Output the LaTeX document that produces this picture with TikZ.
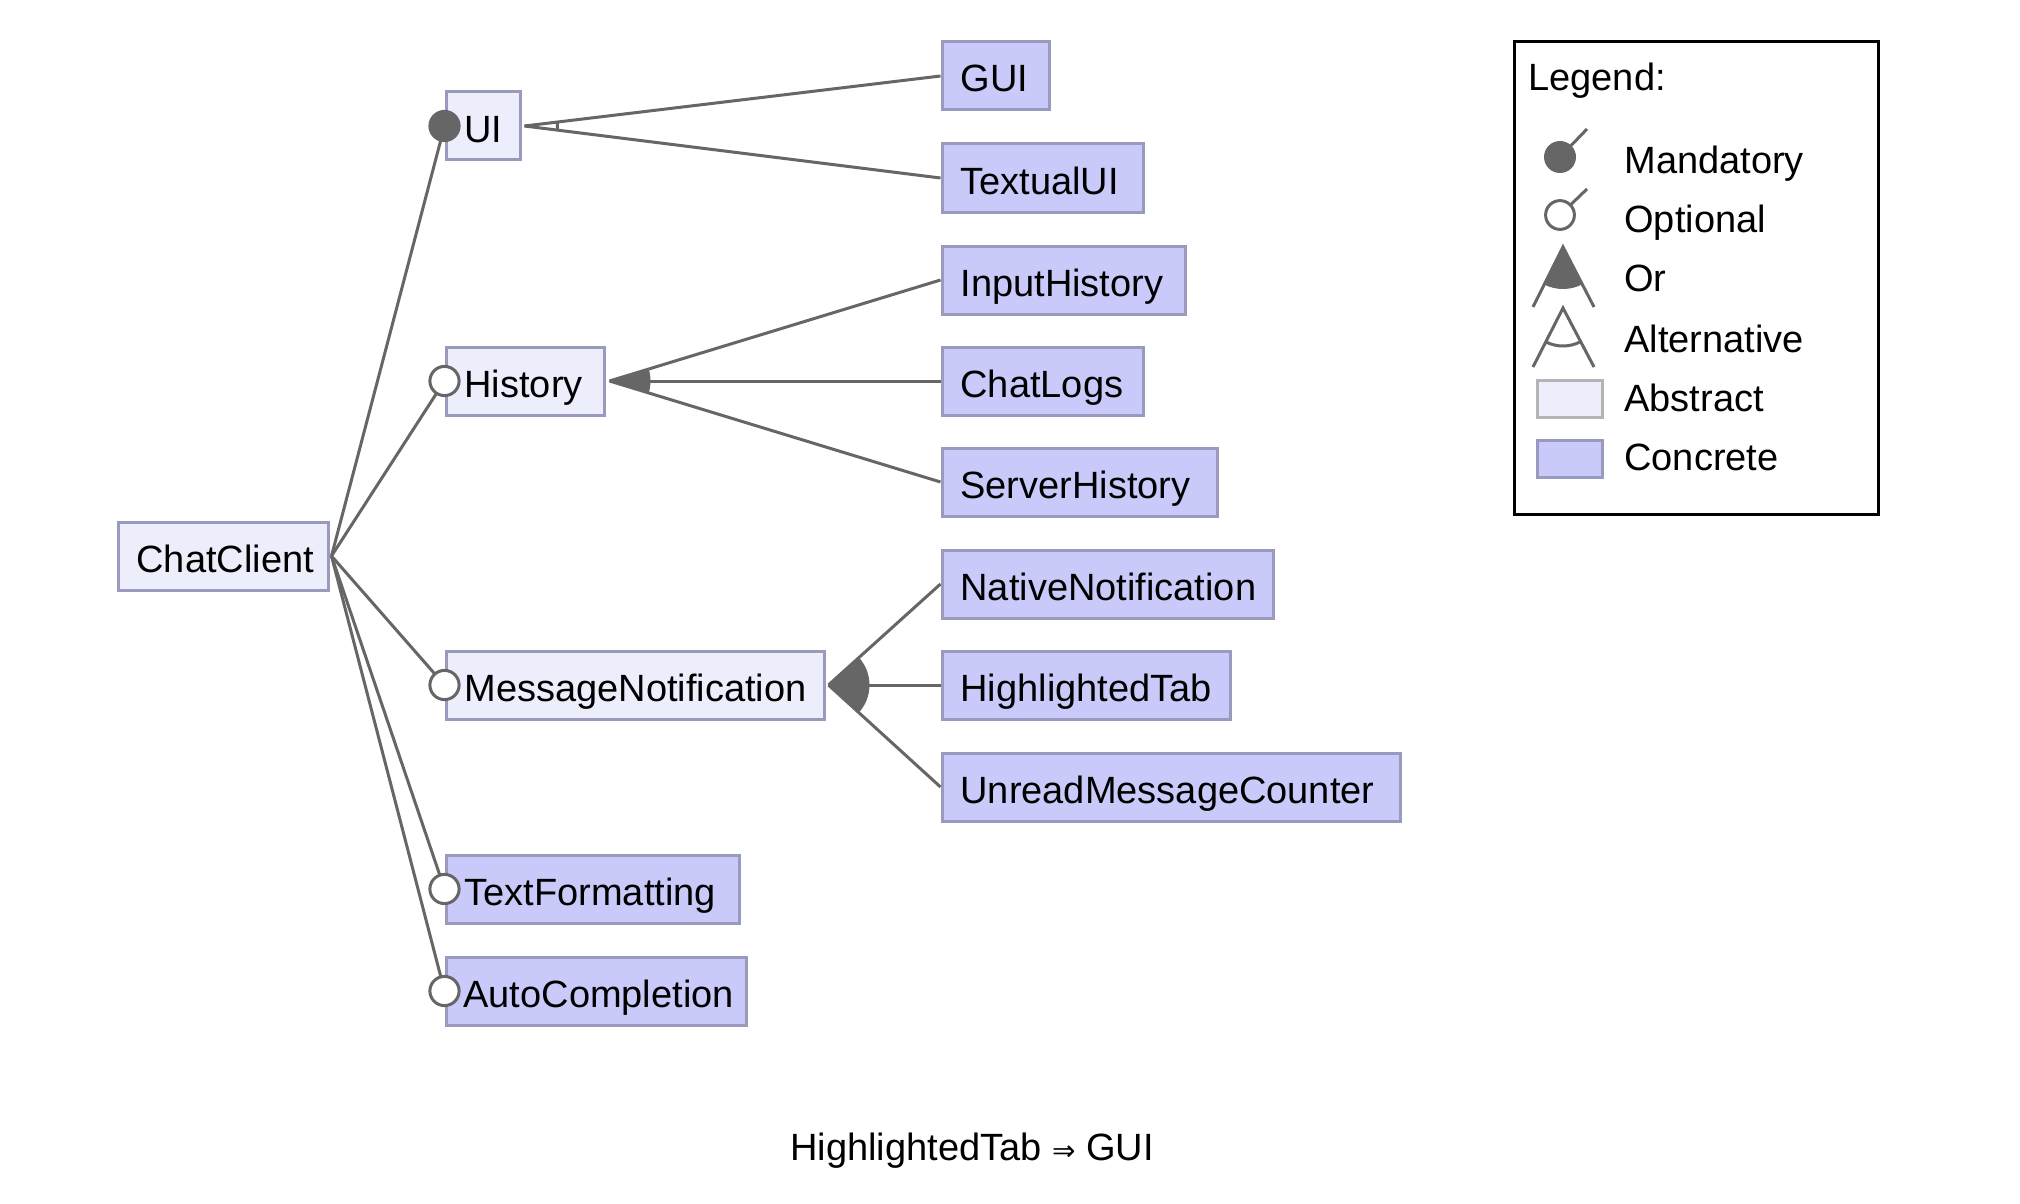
\documentclass[tikz,border=0pt]{standalone}
\usepackage{fontspec}
\setmainfont{Liberation Sans}
\newfontfamily\djv{DejaVu Sans}
\usetikzlibrary{calc}
\definecolor{linegray}{HTML}{666666}
\definecolor{absfill}{HTML}{EDEEFC}
\definecolor{confill}{HTML}{CACAFA}
\definecolor{boxedge}{HTML}{9A9ABF}
\definecolor{legedge}{HTML}{B4B4B4}
\begin{document}
\begin{tikzpicture}[x=0.5pt,y=-0.5pt,
  font=\fontsize{19pt}{23pt}\selectfont,
  feat/.style={draw=boxedge, line width=1.5pt, minimum height=34pt, inner xsep=9.25pt, inner ysep=0pt, text height=16pt, text depth=0pt, anchor=west, align=left},
  absbox/.style={feat, fill=absfill},
  concbox/.style={feat, fill=confill},
  conn/.style={draw=linegray, line width=1.5pt},
  mandc/.style={circle, fill=linegray, draw=linegray, line width=1.5pt, minimum size=14.6pt, inner sep=0pt},
  optc/.style={circle, fill=white, draw=linegray, line width=1.5pt, minimum size=14.6pt, inner sep=0pt},
  legtext/.style={anchor=base west, inner sep=0pt}
]
\useasboundingbox (0,0) rectangle (2020,1204);

% feature boxes
\node[absbox, text width=86.5pt] (CC) at (116.5,556) {ChatClient};
\node[absbox, text width=18.5pt] (UI) at (444.5,126) {UI};
\node[absbox, text width=60.5pt] (HI) at (444.5,381) {History};
\node[absbox, text width=170.5pt] (MN) at (444.5,685) {MessageNotification};
\node[concbox, text width=128pt] (TF) at (444.5,889) {TextFormatting};
\node[concbox, text width=131.5pt] (AC) at (444.5,991) {};
\begin{scope}
  \clip (AC.south west) rectangle ([xshift=-8.75pt]AC.north east);
  \node[anchor=west, inner xsep=0pt, inner ysep=0pt, text height=16pt, text depth=0pt] (ACt) at ([xshift=9.25pt]AC.west) {AutoCompletion};
\end{scope}
\node[concbox, text width=35pt] (GUI) at (940.5,76) {GUI};
\node[concbox, text width=82pt] (TUI) at (940.5,178) {TextualUI};
\node[concbox, text width=103pt] (IH) at (940.5,280) {InputHistory};
\node[concbox, text width=82pt] (CL) at (940.5,381) {ChatLogs};
\node[concbox, text width=119pt] (SH) at (940.5,482) {ServerHistory};
\node[concbox, text width=147pt] (NN) at (940.5,584) {NativeNotification};
\node[concbox, text width=125.5pt] (HT) at (940.5,685) {HighlightedTab};
\node[concbox, text width=210.5pt] (UMC) at (940.5,787) {UnreadMessageCounter};

% root connectors
\coordinate (CCap) at ([xshift=1pt]CC.east);
\draw[conn] (CCap) -- (UI.west);
\draw[conn] (CCap) -- (HI.west);
\draw[conn] (CCap) -- (MN.west);
\draw[conn] (CCap) -- (TF.west);
\draw[conn] (CCap) -- (AC.west);

% UI: alternative group
\coordinate (UIap) at ([xshift=1.5pt]UI.east);
\draw[conn] (UIap) -- (GUI.west);
\draw[conn] (UIap) -- (TUI.west);
\draw[conn] let \p1=($(GUI.west)-(UIap)$), \p2=($(TUI.west)-(UIap)$),
  \n1={atan2(\y1,\x1)}, \n2={atan2(\y2,\x2)} in
  ([shift={(\n1:16.5pt)}]UIap) arc[start angle=\n1, end angle=\n2, radius=16.5pt];

% History: or group
\coordinate (HIap) at ([xshift=2pt]HI.east);
\draw[conn] (HIap) -- (IH.west);
\draw[conn] (HIap) -- (CL.west);
\draw[conn] (HIap) -- (SH.west);
\fill[linegray] let \p1=($(IH.west)-(HIap)$), \p2=($(SH.west)-(HIap)$),
  \n1={atan2(\y1,\x1)}, \n2={atan2(\y2,\x2)} in
  (HIap) -- ++(\n1:20.5pt) arc[start angle=\n1, end angle=\n2, radius=20.5pt] -- cycle;

% MessageNotification: or group
\coordinate (MNap) at ([xshift=1.5pt]MN.east);
\draw[conn] (MNap) -- (NN.west);
\draw[conn] (MNap) -- (HT.west);
\draw[conn] (MNap) -- (UMC.west);
\fill[linegray] let \p1=($(NN.west)-(MNap)$), \p2=($(UMC.west)-(MNap)$),
  \n1={atan2(\y1,\x1)}, \n2={atan2(\y2,\x2)} in
  (MNap) -- ++(\n1:20.5pt) arc[start angle=\n1, end angle=\n2, radius=20.5pt] -- cycle;

% mandatory / optional markers
\node[mandc] (UIm) at (UI.west) {};
\node[optc] (HIo) at (HI.west) {};
\node[optc] (MNo) at (MN.west) {};
\node[optc] (TFo) at (TF.west) {};
\node[optc] (ACo) at (AC.west) {};

% legend
\draw[black, line width=1.5pt] (1514,42) rectangle (1878,514);
\node[legtext] (legT) at (1528,91) {Legend:};
\draw[conn] (1560,157) -- (1587,129);
\fill[linegray] (1560,157) circle[radius=8pt];
\node[legtext] (legM) at (1624,174) {Mandatory};
\draw[conn] (1560,215) -- (1587,189);
\draw[conn, fill=white] (1560,215) circle[radius=7.2pt];
\node[legtext] (legO) at (1624,233) {Optional};
\draw[conn] (1533,307) -- (1563,247) -- (1594,307);
\fill[linegray] let \p1=($(1533,307)-(1563,247)$), \p2=($(1594,307)-(1563,247)$),
  \n1={atan2(\y1,\x1)}, \n2={atan2(\y2,\x2)} in
  (1563,247) -- ++(\n1:21pt) arc[start angle=\n1, end angle=\n2, radius=21pt] -- cycle;
\node[legtext] (legOr) at (1624,292) {Or};
\draw[conn] (1533,367) -- (1563,308) -- (1594,367);
\draw[conn] let \p1=($(1533,367)-(1563,308)$), \p2=($(1594,367)-(1563,308)$),
  \n1={atan2(\y1,\x1)}, \n2={atan2(\y2,\x2)} in
  ([shift={(\n1:19pt)}]1563,308) arc[start angle=\n1, end angle=\n2, radius=19pt];
\node[legtext] (legA) at (1624,352) {Alternative};
\draw[draw=legedge, line width=1.5pt, fill=absfill] (1537,380) rectangle (1602,417);
\node[legtext] (legAb) at (1624,411) {Abstract};
\draw[draw=boxedge, line width=1.5pt, fill=confill] (1537,440) rectangle (1602,477);
\node[legtext] (legC) at (1624,470) {Concrete};

% constraint
\node[anchor=base, inner sep=0pt] (cons) at (972,1160) {HighlightedTab {\djv\fontsize{14pt}{14pt}\selectfont ⇒} GUI};
\end{tikzpicture}
\end{document}
